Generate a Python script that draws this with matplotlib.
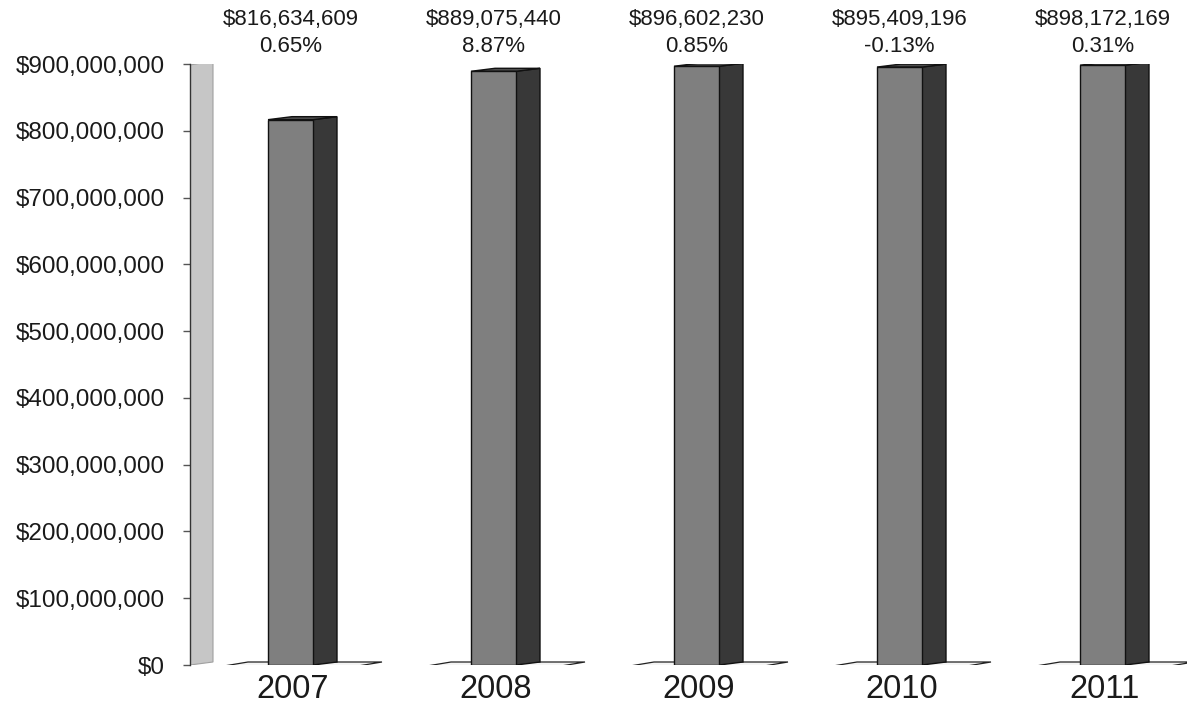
import matplotlib
matplotlib.use("Agg")
import matplotlib.pyplot as plt
from matplotlib.patches import Polygon
from matplotlib.transforms import blended_transform_factory
import numpy as np

years = ["2007", "2008", "2009", "2010", "2011"]
values = [816634609, 889075440, 896602230, 895409196, 898172169]
changes = ["0.65%", "8.87%", "0.85%", "-0.13%", "0.31%"]
yticks = np.arange(0, 900_000_001, 100_000_000)

plt.rcParams["font.family"] = ["Liberation Sans", "DejaVu Sans"]

W, H = 1187, 707
fig = plt.figure(figsize=(W / 100, H / 100), dpi=100)
# axes: left edge at wall (x=190px), y 0 -> 665px, 900M -> 64px
ax = fig.add_axes([190 / W, (H - 665) / H, (W - 190) / W, (665 - 64) / H])
px_x = 203.0                      # pixels per category
x0 = (290.5 - 190) / px_x         # first bar centre offset
ax.set_xlim(-x0, (W - 190) / px_x - x0)
ax.set_ylim(0, 900_000_000)
px_y = 900_000_000 / 601.0        # dollars per pixel

def dx(p):
    return p / px_x

def dy(p):
    return p * px_y

half = dx(22.5)
ddx, ddy = dx(24), dy(3)

# back wall
wl, wr = -x0, -x0 + dx(23)
wall = Polygon([(wl, 0), (wr, dy(3)), (wr, 900_000_000 + dy(3)), (wl, 900_000_000 - dy(1))],
               closed=True, facecolor="#c6c6c6", edgecolor="#a0a0a0", lw=0.8, zorder=1)
ax.add_patch(wall)

x = np.arange(len(years))
for xi, v in zip(x, values):
    # floor plate
    pl, pr = xi - half - dx(44), xi + half + dx(45)
    ax.add_patch(Polygon([(pl, -dy(1)), (pr, -dy(1)), (pr + ddx, -dy(1) + dy(4)), (pl + ddx, -dy(1) + dy(4))],
                         closed=True, facecolor="#f4f4f4", edgecolor="#222222", lw=0.9, zorder=2))
    # side face
    ax.add_patch(Polygon([(xi + half, 0), (xi + half + ddx, ddy), (xi + half + ddx, v + ddy), (xi + half, v)],
                         closed=True, facecolor="#383838", edgecolor="#111111", lw=1.0, zorder=3))
    # top face
    ax.add_patch(Polygon([(xi - half, v), (xi + half, v), (xi + half + ddx, v + ddy), (xi - half + ddx, v + ddy)],
                         closed=True, facecolor="#4d4d4d", edgecolor="#111111", lw=1.0, zorder=3))

ax.bar(x, values, width=2 * half, color="#7f7f7f", edgecolor="#111111", lw=1.0, zorder=4)

tr = blended_transform_factory(ax.transData, fig.transFigure)
for xi, v, c in zip(x, values, changes):
    ax.text(xi, (H - 33) / H, f"${v:,.0f}\n{c}", transform=tr,
            ha="center", va="center", fontsize=16, linespacing=1.4, color="#1a1a1a")
for xi, yr in zip(x, years):
    ax.text(xi + dx(2), (H - 689) / H, yr, transform=tr,
            ha="center", va="center", fontsize=23.5, color="#1a1a1a")

ax.set_yticks(yticks)
ax.set_yticklabels([f"${t:,.0f}" for t in yticks], fontsize=17.5, color="#1a1a1a")
ax.tick_params(axis="y", length=5, width=1, color="#555555", pad=13)
ax.set_xticks([])
for s in ["top", "right", "bottom"]:
    ax.spines[s].set_visible(False)
ax.spines["left"].set_color("#333333")
ax.spines["left"].set_linewidth(1.0)
ax.spines["left"].set_zorder(5)
ax.patch.set_alpha(0)

fig.savefig("out.png", dpi=100)
